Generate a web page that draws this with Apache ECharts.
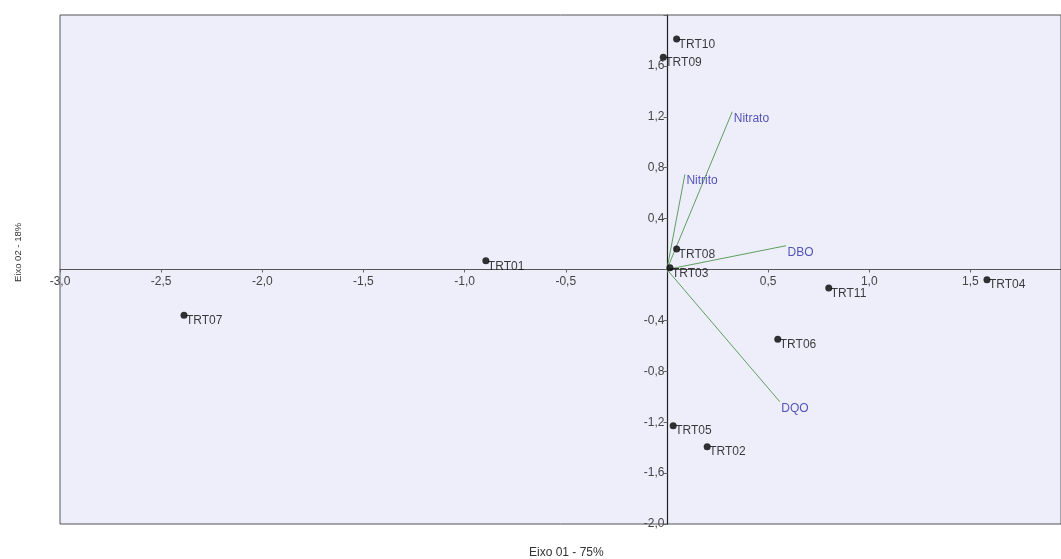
<!DOCTYPE html>
<html>
<head>
<meta charset="utf-8">
<script src="https://cdn.jsdelivr.net/npm/echarts@6/dist/echarts.min.js"></script>
<style>html,body{margin:0;padding:0;background:#fff}#c{width:1061px;height:559px}</style>
</head>
<body>
<div id="c"></div>
<script>
// Observations (scores)
const pointNames = ['TRT01','TRT02','TRT03','TRT04','TRT05','TRT06','TRT07','TRT08','TRT09','TRT10','TRT11'];
const pointX = [-0.895, 0.199, 0.015, 1.582, 0.031, 0.548, -2.387, 0.048, -0.018, 0.048, 0.800];
const pointY = [0.069, -1.392, 0.014, -0.080, -1.227, -0.549, -0.360, 0.161, 1.667, 1.811, -0.145];
// Variables (loadings)
const varNames = ['Nitrato','Nitrito','DBO','DQO'];
const varX = [0.323, 0.089, 0.589, 0.558];
const varY = [1.240, 0.748, 0.187, -1.039];
// Axis titles
const xTitle = 'Eixo 01 - 75%';
const yTitle = 'Eixo 02 - 18%';

const X_MIN = -3, X_MAX = 1.948, Y_MIN = -2, Y_MAX = 2;
const G_LEFT = 60, G_TOP = 15, G_RIGHT = -1, G_BOTTOM = 35, W = 1061, H = 559;
const gw = W - G_LEFT - G_RIGHT, gh = H - G_TOP - G_BOTTOM;
// move the axes (line, ticks, labels) onto the zero crossing
const xOffset = -(gh * (0 - Y_MIN) / (Y_MAX - Y_MIN));
const yOffset = -(gw * (0 - X_MIN) / (X_MAX - X_MIN));

const fmt = v => {
  if (Math.abs(v) < 1e-9) return '';
  return v.toFixed(1).replace('.', ',');
};
const FONT = 'Liberation Sans, Arial, sans-serif';

const chart = echarts.init(document.getElementById('c'), null, {renderer: 'canvas'});

const series = [];
varNames.forEach((n, i) => {
  series.push({
    type: 'line', name: n, data: [[0, 0], [varX[i], varY[i]]],
    symbol: 'none', lineStyle: {color: '#5e9e5e', width: 1}, silent: true, z: 2
  });
});
series.push({
  type: 'scatter', name: 'vars', symbolSize: 1, itemStyle: {color: 'rgba(0,0,0,0)'}, z: 3,
  data: varNames.map((n, i) => ({value: [varX[i], varY[i]], name: n})),
  label: {show: true, formatter: p => p.name, position: [2, 7], align: 'left', verticalAlign: 'middle',
    color: '#2c2ca6', fontSize: 12, fontFamily: FONT}
});
series.push({
  type: 'scatter', name: 'obs', symbol: 'circle', symbolSize: 7, itemStyle: {color: '#000'}, z: 4,
  data: pointNames.map((n, i) => ({value: [pointX[i], pointY[i]], name: n})),
  label: {show: true, formatter: p => p.name, position: [5.5, 9], align: 'left', verticalAlign: 'middle',
    color: '#0a0a0a', fontSize: 12, fontFamily: FONT}
});

chart.setOption({
  animation: false,
  backgroundColor: '#fff',
  grid: {left: G_LEFT, top: G_TOP, right: G_RIGHT, bottom: G_BOTTOM, show: true, backgroundColor: '#eeeefb', borderColor: '#555', borderWidth: 1, containLabel: false},
  xAxis: {
    type: 'value', min: X_MIN, max: X_MAX, interval: 0.5, offset: xOffset,
    axisLine: {onZero: false, lineStyle: {color: '#555', width: 1.2}},
    axisTick: {show: true, length: 3, inside: false, lineStyle: {color: '#666'}},
    axisLabel: {fontSize: 12, color: '#444', margin: 6, fontFamily: FONT,
      formatter: v => (Math.abs(v * 2 - Math.round(v * 2)) > 1e-6 ? '' : fmt(v)), showMaxLabel: false},
    splitLine: {show: false}
  },
  yAxis: {
    type: 'value', min: Y_MIN, max: Y_MAX, interval: 0.4, offset: yOffset,
    axisLine: {onZero: false, lineStyle: {color: '#222', width: 1.2}},
    axisTick: {show: true, length: 4, inside: false, lineStyle: {color: '#666'}},
    axisLabel: {fontSize: 12, color: '#444', margin: 3, fontFamily: FONT,
      formatter: v => (Math.abs(v - 2) < 1e-6 ? '' : fmt(v))},
    splitLine: {show: false}
  },
  graphic: [
    {type: 'text', left: 529, top: 547, style: {text: xTitle, fill: '#333', font: '12px ' + FONT}},
    {type: 'text', x: 13, y: 282, rotation: Math.PI / 2, style: {text: yTitle, fill: '#333', font: '9.5px ' + FONT}}
  ],
  series: series
});
</script>
</body>
</html>
